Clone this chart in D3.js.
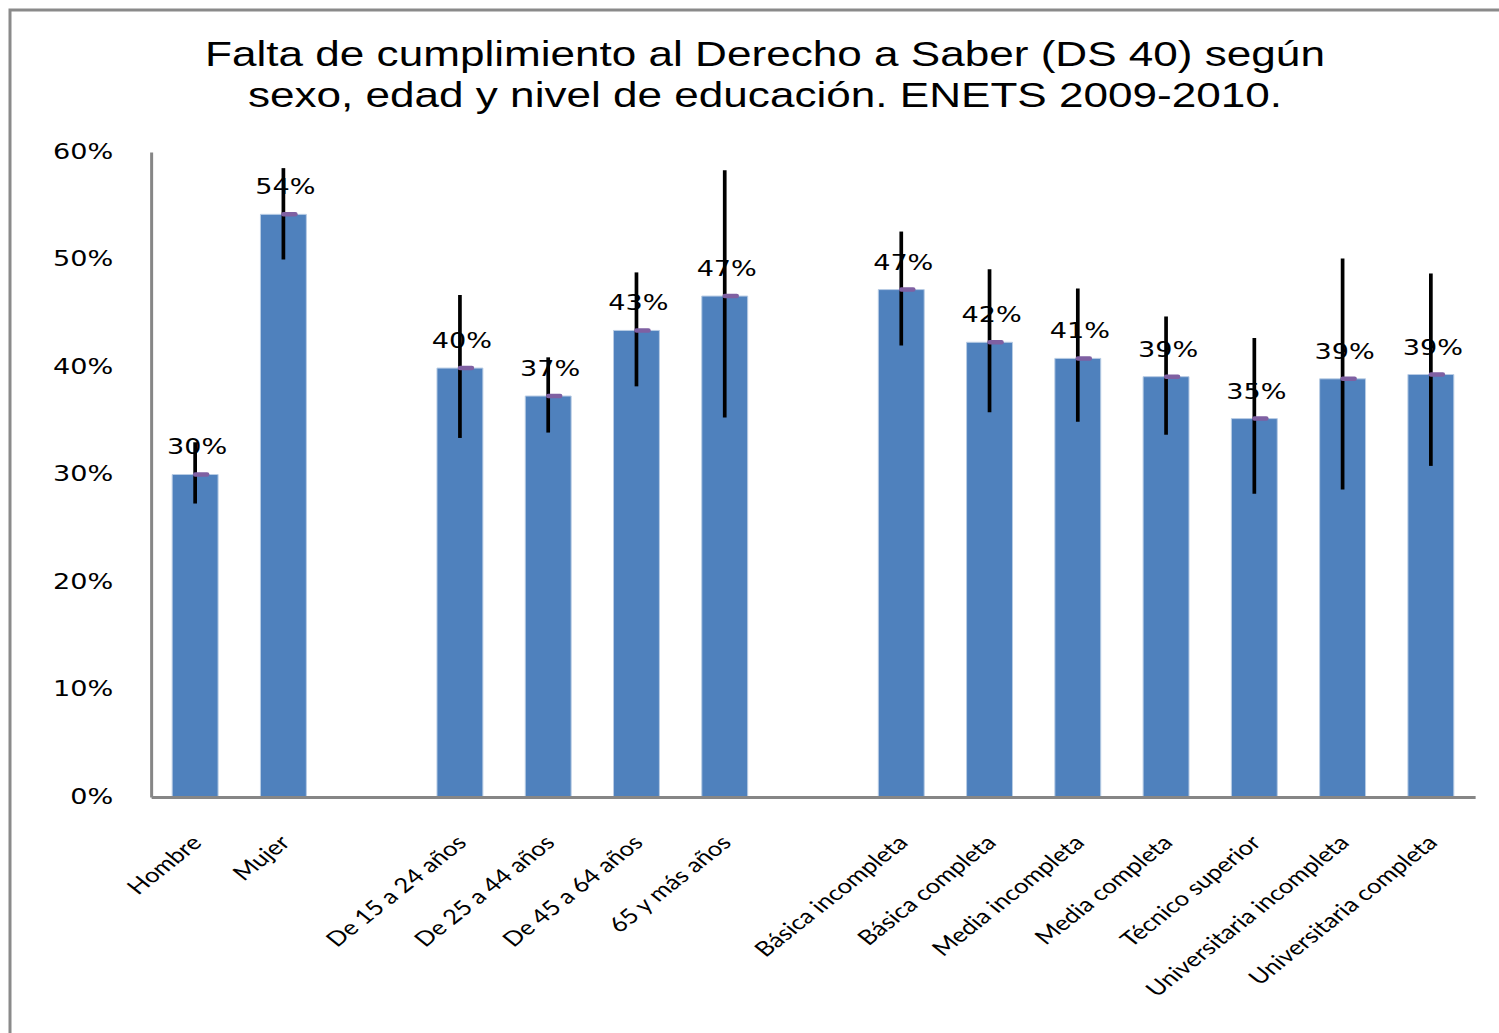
<!DOCTYPE html>
<html>
<head>
<meta charset="utf-8">
<script src="https://cdn.jsdelivr.net/npm/d3@7"></script>
<style>
  html, body { margin: 0; padding: 0; background: #ffffff; }
  svg { display: block; }
  .ln { vector-effect: non-scaling-stroke; }
</style>
</head>
<body>
<svg id="chart" width="1499" height="1033"></svg>
<script>
// Chart data
const titleLines = [
  "Falta de cumplimiento al Derecho a Saber (DS 40) según",
  "sexo, edad y nivel de educación. ENETS 2009-2010."
];
const groups = [
  ["Hombre", "Mujer"],
  ["De 15 a 24 años", "De 25 a 44 años", "De 45 a 64 años", "65 y más años"],
  ["Básica incompleta", "Básica completa", "Media incompleta", "Media completa",
   "Técnico superior", "Universitaria incompleta", "Universitaria completa"]
];
const categories = groups.flat();
const values   = [30.0, 54.2, 39.9, 37.3, 43.4, 46.6, 47.2, 42.3, 40.8, 39.1, 35.2, 38.9, 39.3];
const errLow   = [27.3, 50.0, 33.4, 33.9, 38.2, 35.3, 42.0, 35.8, 34.9, 33.7, 28.2, 28.6, 30.8];
const errHigh  = [33.0, 58.5, 46.7, 40.9, 48.8, 58.3, 52.6, 49.1, 47.3, 44.7, 42.7, 50.1, 48.7];
const yTickValues = [0, 10, 20, 30, 40, 50, 60];
const yTickLabels = ["0%", "10%", "20%", "30%", "40%", "50%", "60%"];

// Slot index of each category: one empty slot between groups
const slots = [];
let s = 0;
groups.forEach((g, gi) => {
  g.forEach(() => { slots.push(s); s++; });
  if (gi < groups.length - 1) s++;
});
const nSlots = s;

const W = 1499, H = 1033;
const k = 1.26; // horizontal stretch of the whole drawing
const svg = d3.select("#chart");

// Outer frame
svg.append("rect").attr("class", "ln")
  .attr("x", 10).attr("y", 10).attr("width", W + 20).attr("height", H + 20)
  .attr("fill", "none").attr("stroke", "#8a8a8a").attr("stroke-width", 3);

const g = svg.append("g").attr("transform", `scale(${k},1)`);

const plotLeft = 151 / k, plotRight = 1475 / k;
const plotTop = 152, plotBottom = 797;

const x = d3.scaleBand()
  .domain(d3.range(nSlots))
  .range([plotLeft, plotRight])
  .paddingInner(0.48)
  .paddingOuter(0.24);

const y = d3.scaleLinear().domain([0, 60]).range([plotBottom, plotTop]);

// Title
g.append("g").selectAll("text").data(titleLines).join("text")
  .attr("x", 765 / k)
  .attr("y", (d, i) => 66 + i * 41)
  .attr("text-anchor", "middle")
  .attr("font-family", "Liberation Sans, Arial, sans-serif")
  .attr("font-size", 35)
  .attr("fill", "#000")
  .text(d => d);

// Y axis
const yAxis = d3.axisLeft(y)
  .tickValues(yTickValues)
  .tickFormat((d, i) => yTickLabels[i])
  .tickSize(0).tickSizeOuter(0).tickPadding(30);
const ya = g.append("g").attr("transform", `translate(${plotLeft},0)`).call(yAxis);
ya.select(".domain").attr("class", "domain ln").attr("stroke", "#868686").attr("stroke-width", 3);
ya.selectAll("text")
  .attr("font-family", "DejaVu Sans, Verdana, sans-serif")
  .attr("font-size", 21.5).attr("fill", "#000").attr("dy", "0.28em");

// Bars
const data = categories.map((c, i) => ({
  c, slot: slots[i], v: values[i], lo: errLow[i], hi: errHigh[i]
}));
const cx = d => x(d.slot) + x.bandwidth() / 2;

g.append("g").selectAll("rect").data(data).join("rect")
  .attr("class", "ln")
  .attr("x", d => x(d.slot))
  .attr("width", x.bandwidth())
  .attr("y", d => y(d.v))
  .attr("height", d => y(0) - y(d.v))
  .attr("fill", "#4f81bd")
  .attr("stroke", "#b8cce4").attr("stroke-width", 1);

// X axis
const xAxis = d3.axisBottom(x)
  .tickValues(slots)
  .tickFormat(sv => categories[slots.indexOf(sv)])
  .tickSize(0).tickSizeOuter(0);
const xa = g.append("g").attr("transform", `translate(0,${plotBottom})`).call(xAxis);
xa.select(".domain").attr("class", "domain ln").attr("stroke", "#868686").attr("stroke-width", 3);
xa.selectAll("text")
  .attr("y", 0).attr("dy", 0)
  .attr("text-anchor", "end")
  .attr("transform", `translate(${8 / k},47) rotate(-45)`)
  .attr("font-family", "Lato, Open Sans, sans-serif")
  .attr("font-size", 20.5).attr("fill", "#000");

// Error bars
g.append("g").selectAll("line").data(data).join("line")
  .attr("class", "ln")
  .attr("x1", cx).attr("x2", cx)
  .attr("y1", d => y(d.hi)).attr("y2", d => y(d.lo))
  .attr("stroke", "#000").attr("stroke-width", 3.7);

// Data labels
g.append("g").selectAll("text").data(data).join("text")
  .attr("x", d => cx(d) + 2 / k)
  .attr("y", d => y(d.v) - 20)
  .attr("text-anchor", "middle")
  .attr("font-family", "DejaVu Sans, Verdana, sans-serif")
  .attr("font-size", 21.5).attr("fill", "#000")
  .text(d => Math.round(d.v) + "%");

// Value markers
g.append("g").selectAll("line").data(data).join("line")
  .attr("class", "ln")
  .attr("x1", d => cx(d) + 0 / k).attr("x2", d => cx(d) + 12 / k)
  .attr("y1", d => y(d.v)).attr("y2", d => y(d.v))
  .attr("stroke", "#7f60a2").attr("stroke-width", 4.5)
  .attr("stroke-linecap", "round");
</script>
</body>
</html>
